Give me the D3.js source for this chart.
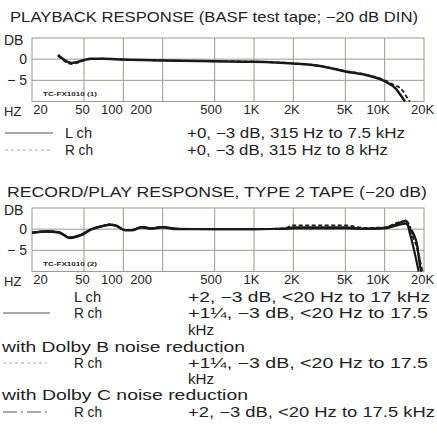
<!DOCTYPE html>
<html lang="en">
  <head>
    <meta charset="UTF-8" />
    <title>Tape deck response</title>
    <script src="https://cdn.jsdelivr.net/npm/d3@7"></script>
    <style>
      body { margin: 0; background: #fff; }
      text { font-family: "Liberation Sans", Arial, sans-serif; fill: #222; }
    </style>
  </head>
  <body>
    <script>
      // tick values and labels
      let freqTicks = [20, 50, 100, 200, 500, 1000, 2000, 5000, 10000, 20000];
      let freqLabels = ["20", "50", "100", "200", "500", "1K", "2K", "5K", "10K", "20K"];
      let gridFreqs = [50, 100, 200, 500, 1000, 2000, 5000, 10000];
      let dbTicks = [0, -5];
      let dbLabels = ["0", "\u2212 5"];

      // playback response, BASF test tape
      let pbFreqL = [31.6, 34, 37, 40, 44, 50, 56, 70, 100, 200, 500, 1000, 2000, 3200, 5000, 7300, 10000, 12200, 13600, 14300];
      let pbL = [1.0, 0.2, -0.6, -0.9, -0.7, -0.2, 0.1, 0.1, -0.1, -0.3, -0.5, -0.6, -1.0, -1.6, -2.9, -3.8, -5.2, -7.0, -9.0, -10];
      let pbFreqR = [31.6, 34, 37, 40, 44, 50, 56, 70, 100, 200, 500, 1000, 2000, 3200, 5000, 7300, 10000, 11300, 13600, 15000, 15600];
      let pbR = [0.8, 0.0, -0.8, -1.1, -0.9, -0.3, 0.0, 0.1, -0.1, -0.3, -0.5, -0.6, -1.0, -1.6, -2.8, -3.7, -5.0, -5.8, -7.3, -9.3, -10];

      // record/play response, type 2 tape
      let rpFreq = [20, 26, 32, 39, 47, 57, 70, 79, 89, 103, 116, 138, 164, 200, 256, 500, 1000, 1700, 2000, 5000, 7000, 10000, 12400, 14500, 15600, 16800, 18200];
      let rpL = [-0.8, -0.5, -0.7, -2.0, -1.4, 0, 0.8, 1.1, 0.8, -0.2, -0.2, 0.5, 0.2, 0.5, 0.1, 0, 0, 0.1, 0.2, 0.2, 0.1, 0.3, 1.2, 2.0, -1, -5, -10];
      let rpFreqR = [20, 26, 32, 39, 47, 57, 70, 79, 89, 103, 116, 138, 164, 200, 256, 500, 1000, 1700, 2000, 5000, 7000, 10000, 12400, 14500, 16000, 17500, 18500, 19000];
      let rpR = [-0.9, -0.6, -0.8, -2.1, -1.5, -0.1, 0.7, 1.0, 0.7, -0.3, -0.3, 0.4, 0.1, 0.4, 0.0, 0, 0, 0.1, 0.4, 0.4, 0.1, 0.2, 0.9, 1.3, -0.5, -3, -8, -10];
      let rpFreqB = [20, 26, 32, 39, 47, 57, 70, 79, 89, 103, 116, 138, 164, 200, 256, 500, 1000, 1700, 2000, 5000, 7000, 10000, 12400, 14000, 15000, 16500, 17500, 18500, 19500];
      let rpB = [-0.8, -0.5, -0.7, -2.0, -1.4, 0, 0.8, 1.1, 0.8, -0.2, -0.2, 0.5, 0.2, 0.5, 0.1, 0, 0, 0.2, 0.9, 0.9, 0.3, 0.4, 1.5, 1.8, 1.0, -2, -4, -7, -10];
      let rpFreqC = [20, 26, 32, 39, 47, 57, 70, 79, 89, 103, 116, 138, 164, 200, 256, 500, 1000, 1700, 2000, 5000, 7000, 10000, 12400, 14500, 16000, 17500, 18500, 19000];
      let rpC = [-0.8, -0.5, -0.7, -2.0, -1.4, 0, 0.8, 1.1, 0.8, -0.2, -0.2, 0.5, 0.2, 0.5, 0.1, 0, 0, 0.1, 0.3, 0.3, 0.1, 0.3, 1.2, 2.0, 0.0, -3, -7, -10];

      let W = 437, H = 437;
      // nudges for the typeset frequency labels
      let labelNudge = [8, -2, -12, -22, -4, -3, -2, -1, -7, -2];

      let svg = d3.select("body").append("svg").attr("width", W).attr("height", H);

      let x = d3.scaleLog().domain([20, 20000]).range([32, 424]);

      function zip(f, v) {
        return f.map(function (d, i) { return { f: d, db: v[i] }; });
      }

      // text stretched to the width it has in the printed page
      function txt(px, py, s, len, size) {
        let t = svg.append("text").attr("x", px).attr("y", py)
          .attr("font-size", size || 14).text(s);
        if (len) t.attr("textLength", len).attr("lengthAdjust", "spacingAndGlyphs");
        return t;
      }

      function drawChart(top, tag, series) {
        let g = svg.append("g");
        let y = d3.scaleLinear().domain([-10, 5]).range([top + 63.5, top]);

        // grid
        g.selectAll(".vg").data(gridFreqs).enter().append("line")
          .attr("x1", function (d) { return x(d); }).attr("x2", function (d) { return x(d); })
          .attr("y1", y(5)).attr("y2", y(-10))
          .attr("stroke", "#9a9a90").attr("stroke-width", 1);
        g.selectAll(".hg").data(dbTicks).enter().append("line")
          .attr("x1", x(20)).attr("x2", x(20000))
          .attr("y1", function (d) { return y(d); }).attr("y2", function (d) { return y(d); })
          .attr("stroke", "#9a9a90").attr("stroke-width", 1);
        g.append("rect")
          .attr("x", x(20)).attr("y", y(5))
          .attr("width", x(20000) - x(20)).attr("height", y(-10) - y(5))
          .attr("fill", "none").attr("stroke", "#9a9a90").attr("stroke-width", 1);

        // y axis
        let ya = g.append("g").attr("transform", "translate(27,0)")
          .call(d3.axisLeft(y).tickValues(dbTicks).tickSize(0).tickPadding(0)
            .tickFormat(function (d, i) { return dbLabels[i]; }));
        ya.select(".domain").remove();
        ya.selectAll("text").attr("font-size", 14).attr("font-family", null).attr("fill", "#222");
        g.append("text").attr("x", 4).attr("y", y(5) + 7).attr("font-size", 14).text("DB");

        // x axis
        let xa = g.append("g").attr("transform", "translate(0," + (y(-10) + 3) + ")")
          .call(d3.axisBottom(x).tickValues(freqTicks).tickSize(0).tickPadding(0)
            .tickFormat(function (d, i) { return freqLabels[i]; }));
        xa.select(".domain").remove();
        xa.selectAll("text").attr("font-size", 13).attr("font-family", null).attr("fill", "#222")
          .attr("dx", function (d, i) { return labelNudge[i]; });
        g.append("text").attr("x", 4).attr("y", y(-10) + 14).attr("font-size", 13).text("HZ");

        g.append("text").attr("x", 43).attr("y", y(-10) - 6)
          .attr("font-size", 5.5).attr("font-weight", "bold")
          .attr("textLength", 54).attr("lengthAdjust", "spacingAndGlyphs").text(tag);

        let line = d3.line()
          .x(function (d) { return x(d.f); })
          .y(function (d) { return y(d.db); })
          .curve(d3.curveMonotoneX);

        g.selectAll(".curve").data(series).enter().append("path")
          .attr("d", function (s) { return line(s.pts); })
          .attr("fill", "none")
          .attr("stroke", "#1a1a1a")
          .attr("stroke-width", function (s) { return s.w; })
          .attr("stroke-dasharray", function (s) { return s.dash; });
      }

      txt(10, 22, "PLAYBACK RESPONSE (BASF test tape; \u221220 dB DIN)", 408);

      drawChart(38, "TC-FX1010 (1)", [
        { pts: zip(pbFreqL, pbL), w: 2.5, dash: null },
        { pts: zip(pbFreqR, pbR), w: 1.8, dash: "4,2.5" }
      ]);

      txt(7, 197, "RECORD/PLAY RESPONSE, TYPE 2 TAPE (\u221220 dB)", 420);

      drawChart(208, "TC-FX1010 (2)", [
        { pts: zip(rpFreq, rpL), w: 2.2, dash: null },
        { pts: zip(rpFreqR, rpR), w: 2.2, dash: null },
        { pts: zip(rpFreqB, rpB), w: 1.8, dash: "4,2.5" },
        { pts: zip(rpFreqC, rpC), w: 1.8, dash: "8,2,2,2" }
      ]);

      // legend samples
      function sample(yy, dash, x0, x1, col) {
        svg.append("line").attr("x1", x0).attr("x2", x1).attr("y1", yy).attr("y2", yy)
          .attr("stroke", col).attr("stroke-width", 1.2)
          .attr("stroke-dasharray", dash);
      }

      sample(133, null, 5, 53, "#555");
      txt(65, 138, "L ch", 27);
      txt(187, 138, "+0, \u22123 dB, 315 Hz to 7.5 kHz", 218);
      sample(150, "3,3", 5, 53, "#aaa");
      txt(65, 155, "R ch", 28);
      txt(187, 155, "+0, \u22123 dB, 315 Hz to 8 kHz", 201);

      txt(74, 302, "L ch", 27);
      txt(188, 302, "+2, \u22123 dB, <20 Hz to 17 kHz", 242);
      sample(313, null, 3, 50, "#555");
      txt(74, 318, "R ch", 28);
      txt(188, 318, "+1\u00bc, \u22123 dB, <20 Hz to 17.5", 240);
      txt(188, 335, "kHz", 26);
      txt(2, 352, "with Dolby B noise reduction", 243);
      sample(363, "3,3", 3, 47, "#aaa");
      txt(74, 368, "R ch", 28);
      txt(188, 368, "+1\u00bc, \u22123 dB, <20 Hz to 17.5", 240);
      txt(188, 384, "kHz", 26);
      txt(2, 400, "with Dolby C noise reduction", 246);
      sample(412, "14,4,2,4", 3, 47, "#555");
      txt(74, 417, "R ch", 28);
      txt(188, 417, "+2, \u22123 dB, <20 Hz to 17.5 kHz", 247);
    </script>
  </body>
</html>
